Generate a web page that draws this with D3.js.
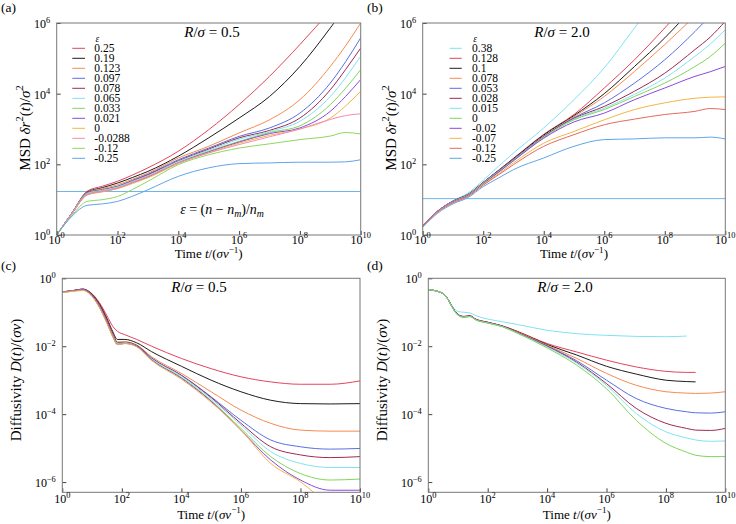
<!DOCTYPE html>
<html><head><meta charset="utf-8">
<script src="https://cdn.jsdelivr.net/npm/d3@7"></script>
<style>
body{margin:0;background:#fff}
svg{display:block}
text{font-family:"Liberation Serif","Times New Roman",serif;fill:#000}
</style>
</head><body>
<svg id="chart" width="736" height="524"></svg>
<script>
// ---------- DATA (log10 values) ----------
const LT_AB = [0,0.5,1,1.5,2,2.5,3,4,5,6,7,8,9,9.5,10];          // log10 t, panels a,b
const EPS_A = ["0.25","0.19","0.123","0.097","0.078","0.065","0.033","0.021","0","-0.0288","-0.12","-0.25"];
const COLORS_A = ["#e3445c","#1c1c1c","#f58a52","#5b6ee0","#9e2a55","#80e2f2","#80d65a","#8c48e0","#f4b446","#f28bb8","#90d65c","#5ea5e8"];
const MSD_A = [
  [0,0.62,1.24,1.38,1.52,1.70,1.90,2.37,2.98,3.69,4.49,5.39,6.35,6.85,7.35],
  [0,0.62,1.21,1.34,1.47,1.63,1.80,2.23,2.75,3.31,3.92,4.77,5.86,6.45,7.05],
  [0,0.62,1.20,1.31,1.42,1.58,1.75,2.18,2.51,2.89,3.26,3.83,4.77,5.35,6.00],
  [0,0.62,1.19,1.28,1.38,1.55,1.72,2.13,2.46,2.79,3.03,3.45,4.30,4.90,5.58],
  [0,0.62,1.19,1.28,1.37,1.53,1.70,2.10,2.43,2.75,2.96,3.31,4.11,4.68,5.29],
  [0,0.62,1.18,1.27,1.36,1.52,1.68,2.08,2.40,2.71,2.93,3.22,3.92,4.45,5.06],
  [0,0.60,1.15,1.24,1.33,1.49,1.65,2.05,2.37,2.65,2.90,3.09,3.69,4.15,4.68],
  [0,0.60,1.14,1.23,1.32,1.48,1.64,2.04,2.35,2.63,2.87,3.03,3.50,3.92,4.40],
  [0,0.60,1.13,1.22,1.31,1.46,1.62,2.02,2.33,2.60,2.82,3.00,3.31,3.65,4.07],
  [0,0.60,1.14,1.24,1.33,1.49,1.66,2.04,2.32,2.56,2.78,3.00,3.27,3.38,3.43],
  [0,0.55,0.95,1.00,1.09,1.29,1.52,1.99,2.27,2.46,2.58,2.70,2.80,2.90,2.86],
  [0,0.53,0.84,0.88,0.95,1.10,1.28,1.66,1.90,2.02,2.04,2.06,2.06,2.07,2.13]
];
const HLINE_A = 17;

const EPS_B = ["0.38","0.128","0.1","0.078","0.053","0.028","0.015","0","-0.02","-0.07","-0.12","-0.25"];
const COLORS_B = ["#80e2f2","#e3445c","#1c1c1c","#f58a52","#5b6ee0","#9e2a55","#80e2f2","#80d65a","#8c48e0","#f4b446","#e46a5c","#5ea5e8"];
const MSD_B = [
  [0.27,0.68,0.97,1.19,1.55,1.94,2.32,3.03,3.83,4.73,5.86,7.00,8.00,8.50,9.00],
  [0.27,0.68,0.96,1.15,1.49,1.83,2.17,2.85,3.41,4.16,4.96,5.86,6.80,7.30,7.80],
  [0.27,0.68,0.96,1.15,1.49,1.82,2.16,2.83,3.38,4.00,4.77,5.58,6.50,7.00,7.50],
  [0.27,0.68,0.95,1.14,1.48,1.81,2.14,2.80,3.35,3.92,4.63,5.39,6.20,6.60,7.00],
  [0.27,0.68,0.95,1.14,1.48,1.81,2.14,2.79,3.32,3.74,4.30,4.96,5.76,6.20,6.60],
  [0.27,0.68,0.95,1.13,1.47,1.80,2.13,2.78,3.30,3.64,4.07,4.58,5.25,5.60,6.05],
  [0.27,0.68,0.95,1.13,1.47,1.79,2.12,2.77,3.28,3.59,3.98,4.44,5.06,5.40,5.81],
  [0.27,0.68,0.94,1.13,1.46,1.78,2.11,2.76,3.26,3.55,3.92,4.30,4.77,5.05,5.43],
  [0.27,0.68,0.94,1.12,1.45,1.77,2.10,2.74,3.20,3.45,3.83,4.16,4.49,4.62,4.77],
  [0.25,0.66,0.92,1.10,1.43,1.73,2.04,2.60,2.93,3.26,3.55,3.74,3.87,3.90,3.91],
  [0.24,0.65,0.91,1.09,1.41,1.70,1.99,2.51,2.84,3.12,3.28,3.41,3.50,3.58,3.55],
  [0.22,0.62,0.88,1.06,1.37,1.61,1.85,2.18,2.51,2.70,2.72,2.75,2.75,2.77,2.72]
];
const HLINE_B = 10.7;

const LT_C = [0,0.3,0.7,0.95,1.25,1.5,1.7,1.85,2.1,2.5,3,4,5,6,7,8,9,10];
const DIFF_C = [
  [-0.40,-0.37,-0.32,-0.42,-0.72,-1.10,-1.42,-1.56,-1.66,-1.80,-2.00,-2.36,-2.66,-2.90,-3.05,-3.12,-3.12,-3.02],
  [-0.40,-0.37,-0.32,-0.43,-0.76,-1.18,-1.58,-1.80,-1.80,-1.90,-2.16,-2.59,-3.00,-3.34,-3.59,-3.69,-3.70,-3.69],
  [-0.40,-0.37,-0.33,-0.45,-0.80,-1.25,-1.65,-1.90,-1.87,-1.96,-2.31,-2.80,-3.34,-3.88,-4.27,-4.47,-4.50,-4.50],
  [-0.41,-0.38,-0.34,-0.46,-0.82,-1.28,-1.70,-1.93,-1.90,-1.98,-2.35,-2.85,-3.49,-4.18,-4.76,-4.96,-5.03,-5.01],
  [-0.40,-0.37,-0.32,-0.44,-0.78,-1.22,-1.62,-1.88,-1.88,-1.98,-2.35,-2.86,-3.51,-4.27,-4.96,-5.20,-5.28,-5.25],
  [-0.41,-0.38,-0.34,-0.47,-0.84,-1.30,-1.70,-1.93,-1.90,-2.00,-2.37,-2.88,-3.55,-4.32,-5.10,-5.45,-5.57,-5.57],
  [-0.41,-0.38,-0.35,-0.48,-0.86,-1.32,-1.72,-1.94,-1.91,-2.00,-2.40,-2.92,-3.60,-4.42,-5.25,-5.75,-5.94,-5.91],
  [-0.41,-0.38,-0.34,-0.47,-0.85,-1.30,-1.72,-1.95,-1.92,-2.00,-2.40,-2.94,-3.62,-4.47,-5.35,-5.94,-6.24,-6.24],
  [-0.42,-0.39,-0.36,-0.49,-0.87,-1.33,-1.73,-1.95,-1.92,-2.02,-2.42,-2.97,-3.65,-4.47,-5.45,-5.99,-6.70,-7.20]
];

const LT_D = [0,0.5,1,1.2,1.4,1.6,2,2.5,3,4,5,6,7,8,8.7,9,9.5,10];
const DIFF_D = [
  [-0.33,-0.45,-0.98,-1.00,-1.02,-1.10,-1.20,-1.28,-1.36,-1.53,-1.63,-1.68,-1.71,-1.72,-1.70,null,null,null],
  [-0.33,-0.45,-1.06,-1.12,-1.10,-1.20,-1.29,-1.40,-1.56,-1.92,-2.17,-2.41,-2.61,-2.74,-2.77,-2.77,null,null],
  [-0.33,-0.45,-1.07,-1.13,-1.11,-1.21,-1.30,-1.41,-1.57,-1.95,-2.26,-2.59,-2.82,-3.00,-3.04,-3.05,null,null],
  [-0.33,-0.45,-1.08,-1.14,-1.12,-1.22,-1.31,-1.42,-1.58,-1.97,-2.36,-2.80,-3.15,-3.34,-3.38,-3.39,-3.38,-3.34],
  [-0.33,-0.45,-1.08,-1.14,-1.12,-1.22,-1.31,-1.42,-1.60,-1.99,-2.43,-3.00,-3.54,-3.83,-3.93,-3.96,-3.97,-3.93],
  [-0.33,-0.45,-1.07,-1.13,-1.11,-1.21,-1.30,-1.41,-1.60,-2.00,-2.47,-3.10,-3.83,-4.27,-4.42,-4.47,-4.48,-4.42],
  [-0.33,-0.45,-1.08,-1.14,-1.12,-1.22,-1.31,-1.42,-1.61,-2.02,-2.50,-3.15,-3.98,-4.52,-4.70,-4.76,-4.80,-4.79],
  [-0.33,-0.45,-1.09,-1.15,-1.13,-1.23,-1.32,-1.43,-1.62,-2.05,-2.56,-3.25,-4.18,-4.86,-5.12,-5.21,-5.25,-5.25]
];

const X_TICKS = [0,2,4,6,8,10];
const Y_TICKS_MSD = [0,2,4,6];
const Y_TICKS_DIFF = [0,-2,-4,-6];

// ---------- DRAWING ----------
const svg = d3.select("#chart");
let clipId = 0;

function rich(sel, parts, size) {
  let shift = 0;
  parts.forEach(([t, st]) => {
    const ts = sel.append("tspan").text(t);
    let target = 0;
    if (st && st.includes("s")) { target = -size * 0.42; ts.attr("font-size", size * 0.7); }
    if (st && st.includes("b")) { target = size * 0.22; ts.attr("font-size", size * 0.7); }
    if (st && st.includes("i")) ts.attr("font-style", "italic");
    const dy = target - shift;
    if (dy !== 0) ts.attr("dy", dy);
    shift = target;
  });
}

function panel(o) {
  const x = d3.scaleLog().domain([1, 1e10]).range([o.x0, o.x1]);
  const y = d3.scaleLog().domain(o.yDom).range([o.y1, o.y0]);
  const g = svg.append("g");
  const id = "clip" + (clipId++);
  svg.append("clipPath").attr("id", id).append("rect")
    .attr("x", o.x0).attr("y", o.y0).attr("width", o.x1 - o.x0).attr("height", o.y1 - o.y0);

  const plot = g.append("g").attr("clip-path", `url(#${id})`);
  if (o.hline) {
    plot.append("line").attr("x1", o.x0).attr("x2", o.x1)
      .attr("y1", y(o.hline)).attr("y2", y(o.hline))
      .attr("stroke", "#6db6ea").attr("stroke-width", 1);
  }
  const line = d3.line()
    .defined(d => d[1] !== null)
    .x(d => x(Math.pow(10, d[0])))
    .y(d => y(Math.pow(10, d[1])))
    .curve(d3.curveMonotoneX);
  o.series.forEach((s, i) => {
    plot.append("path")
      .attr("d", line(o.lt.map((t, j) => [t, s[j]])))
      .attr("fill", "none").attr("stroke", o.colors[i]).attr("stroke-width", 1);
  });

  const ax = g.append("g").attr("transform", `translate(0,${o.y1})`)
    .call(d3.axisBottom(x).tickValues(X_TICKS.map(e => Math.pow(10, e))).tickSize(-4).tickFormat(""));
  const ay = g.append("g").attr("transform", `translate(${o.x0},0)`)
    .call(d3.axisLeft(y).tickValues(o.yTicks.map(e => Math.pow(10, e))).tickSize(-4).tickFormat(""));
  [ax, ay].forEach(a => { a.select(".domain").remove(); a.selectAll("line").attr("stroke", "#444"); });

  g.append("rect").attr("x", o.x0).attr("y", o.y0).attr("width", o.x1 - o.x0).attr("height", o.y1 - o.y0)
    .attr("fill", "none").attr("stroke", "#777").attr("stroke-width", 1);

  X_TICKS.forEach(e => {
    const t = g.append("text").attr("x", x(Math.pow(10, e))).attr("y", o.y1 + o.xLabOff)
      .attr("text-anchor", "middle").attr("font-size", 12);
    rich(t, [["10"], [String(e).replace("-", "\u2212"), "s"]], 12);
  });
  o.yTicks.forEach(e => {
    const t = g.append("text").attr("x", o.x0 - 6.5).attr("y", y(Math.pow(10, e)) + 5)
      .attr("text-anchor", "end").attr("font-size", 12);
    rich(t, [["10"], [String(e).replace("-", "\u2212"), "s"]], 12);
  });

  const xt = g.append("text").attr("x", (o.x0 + o.x1) / 2).attr("y", o.xTitleY)
    .attr("text-anchor", "middle").attr("font-size", 13);
  rich(xt, [["Time "], ["t", "i"], ["/("], ["σv", "i"], ["\u22121", "s"], [")"]], 13);
  const yt = g.append("text").attr("transform", `translate(${o.yTitleX},${o.yTitleY}) rotate(-90)`)
    .attr("text-anchor", "middle").attr("font-size", 15);
  rich(yt, o.yTitle, 15);

  const tt = g.append("text").attr("x", o.titleX).attr("y", o.titleY)
    .attr("text-anchor", "middle").attr("font-size", 15);
  rich(tt, [["R", "i"], ["/"], ["σ", "i"], [" = " + o.ratio]], 15);

  g.append("text").attr("x", o.letterX).attr("y", o.letterY)
    .attr("font-size", 13.5).text(o.letter);

  if (o.legend) {
    const L = o.legend;
    g.append("text").attr("x", L.tx + 3).attr("y", L.y - 6.5).attr("font-size", 9.5)
      .attr("font-style", "italic").attr("text-anchor", "middle").text("ε");
    o.labels.forEach((lab, i) => {
      const yy = L.y + i * 10;
      g.append("line").attr("x1", L.lx0).attr("x2", L.lx1).attr("y1", yy).attr("y2", yy)
        .attr("stroke", o.colors[i]).attr("stroke-width", 1);
      g.append("text").attr("x", L.tx).attr("y", yy + 4).attr("font-size", 11.5).text(lab);
    });
  }
  return { x, y, g };
}

const msdTitle = [["MSD "], ["δr", "i"], ["2", "s"], ["("], ["t", "i"], [")/"], ["σ", "i"], ["2", "s"]];
const diffTitle = [["Diffusivity "], ["D", "i"], ["("], ["t", "i"], [")/("], ["σv", "i"], [")"]];

const pa = panel({ x0: 56.7, x1: 360.7, y0: 23, y1: 235, yDom: [1, 1e6], yTicks: Y_TICKS_MSD,
  lt: LT_AB, series: MSD_A, colors: COLORS_A, labels: EPS_A, hline: HLINE_A,
  xLabOff: 8.5, xTitleY: 258, yTitleX: 29.5, yTitleY: 128, yTitle: msdTitle,
  titleX: 212, titleY: 37, ratio: "0.5", letter: "(a)", letterX: 1, letterY: 12,
  legend: { lx0: 72.3, lx1: 85, tx: 94.3, y: 48.3 } });

const ft = pa.g.append("text").attr("x", 222).attr("y", 214).attr("text-anchor", "middle").attr("font-size", 14);
rich(ft, [["ε", "i"], [" = ("], ["n", "i"], [" \u2212 "], ["n", "i"], ["m", "bi"], [")/"], ["n", "i"], ["m", "bi"]], 14);

panel({ x0: 422.7, x1: 725.3, y0: 23, y1: 235, yDom: [1, 1e6], yTicks: Y_TICKS_MSD,
  lt: LT_AB, series: MSD_B, colors: COLORS_B, labels: EPS_B, hline: HLINE_B,
  xLabOff: 8.5, xTitleY: 258, yTitleX: 395.7, yTitleY: 128, yTitle: msdTitle,
  titleX: 562, titleY: 37, ratio: "2.0", letter: "(b)", letterX: 367, letterY: 12,
  legend: { lx0: 449.5, lx1: 461.7, tx: 472, y: 48.3 } });

panel({ x0: 62.3, x1: 360, y0: 278.3, y1: 492.3, yDom: [5e-7, 1], yTicks: Y_TICKS_DIFF,
  lt: LT_C, series: DIFF_C, colors: COLORS_A.slice(0, 9),
  xLabOff: 11, xTitleY: 518.5, yTitleX: 20.5, yTitleY: 380, yTitle: diffTitle,
  titleX: 199, titleY: 292, ratio: "0.5", letter: "(c)", letterX: 1, letterY: 270 });

panel({ x0: 428.3, x1: 725.3, y0: 278.3, y1: 492.3, yDom: [5e-7, 1], yTicks: Y_TICKS_DIFF,
  lt: LT_D, series: DIFF_D, colors: COLORS_B.slice(0, 8),
  xLabOff: 11, xTitleY: 518.5, yTitleX: 386.5, yTitleY: 380, yTitle: diffTitle,
  titleX: 565, titleY: 292, ratio: "2.0", letter: "(d)", letterX: 367, letterY: 270 });
</script>
</body></html>
